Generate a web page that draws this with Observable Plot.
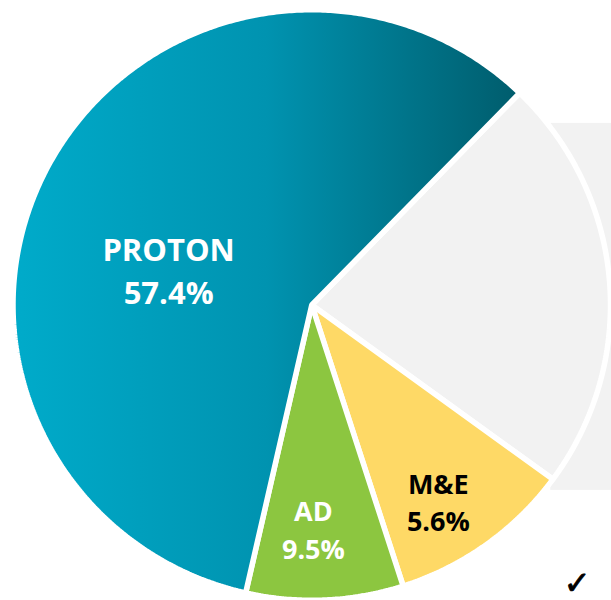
<!DOCTYPE html>
<html>
<head>
<meta charset="utf-8">
<script src="https://cdn.jsdelivr.net/npm/d3@7"></script>
<script src="https://cdn.jsdelivr.net/npm/@observablehq/plot@0.6"></script>
<style>
  html, body { margin: 0; padding: 0; background: #ffffff; }
  #chart { width: 611px; height: 600px; overflow: hidden; }
</style>
</head>
<body>
<div id="chart"></div>
<script>
// ---- data (slice sizes as drawn, clockwise from the start angle) ----
const categories  = ["Other", "M&E", "AD", "PROTON"];
const shares      = [22.8, 10.0, 8.5, 58.7];
const labelNames  = ["", "M&E", "AD", "PROTON"];
const labelValues = ["", "5.6%", "9.5%", "57.4%"];
const checkMark   = ["✓"];

// ---- styles / layout ----
const sliceColors = ["#f2f2f2", "#fed966", "#8cc640", "url(#protonGrad)"];
const labelColors = ["", "#000000", "#ffffff", "#ffffff"];
const labelLayout = [null, {r: 0.786, shift: 3.2, size: 27}, {r: 0.754, shift: 2.1, size: 27}, {r: 0.495, shift: -13.9, size: 31}];
const startAngle = 44.1; // degrees clockwise from 12 o'clock
const backdrop = [{x1: 0.80, x2: 1.05, y1: -0.628, y2: 0.615}];

// ---- geometry built from the data ----
const total = d3.sum(shares);
const rad = Math.PI / 180;
let acc = startAngle;
const slices = categories.map((key, i) => {
  const a0 = acc, a1 = acc + shares[i] / total * 360;
  acc = a1;
  return {key, i, a0, a1};
});
const points = [];
for (const s of slices) {
  points.push({key: s.key, x: 0, y: 0});
  const n = Math.ceil((s.a1 - s.a0) / 0.5);
  for (let k = 0; k <= n; k++) {
    const a = (s.a0 + (s.a1 - s.a0) * k / n) * rad;
    points.push({key: s.key, x: Math.sin(a), y: Math.cos(a)});
  }
}
const labels = slices.filter(s => labelNames[s.i]).map(s => {
  const L = labelLayout[s.i];
  const a = ((s.a0 + s.a1) / 2 + L.shift) * rad;
  return {
    key: s.key,
    x: L.r * Math.sin(a),
    y: L.r * Math.cos(a),
    text: labelNames[s.i] + "\n" + labelValues[s.i],
    color: labelColors[s.i],
    size: L.size
  };
});

const font = "'Open Sans', 'DejaVu Sans', sans-serif";

const chart = Plot.plot({
  width: 611,
  height: 600,
  marginLeft: 12.5,
  marginRight: 1,
  marginTop: 9.25,
  marginBottom: 0.25,
  x: {domain: [-1, 1], axis: null},
  y: {domain: [-1, 1], axis: null},
  color: {type: "ordinal", domain: categories, range: sliceColors},
  style: {background: "#ffffff", fontFamily: font, overflow: "hidden"},
  marks: [
    Plot.rect(backdrop, {x1: "x1", x2: "x2", y1: "y1", y2: "y2", fill: "#f2f2f2"}),
    Plot.line(points, {
      x: "x", y: "y", z: "key", fill: "key",
      stroke: "#ffffff", strokeWidth: 5.5, strokeLinejoin: "miter",
      curve: "linear-closed"
    }),
    Plot.text(labels.filter(d => d.color === "#ffffff"), {
      x: "x", y: "y", text: "text", fill: "#ffffff",
      fontSize: "size", fontWeight: "bold", lineHeight: 1.4, fontFamily: font
    }),
    Plot.text(labels.filter(d => d.color === "#000000"), {
      x: "x", y: "y", text: "text", fill: "#000000",
      fontSize: "size", fontWeight: "bold", lineHeight: 1.4, fontFamily: font
    }),
    Plot.text(checkMark, {
      text: d => d, frameAnchor: "bottom-right", lineAnchor: "middle",
      dx: -20, dy: -17,
      fontSize: 32, fill: "#000000", stroke: "#000000", strokeWidth: 0.9,
      fontFamily: "'DejaVu Sans', sans-serif"
    })
  ]
});

// gradient definition for the PROTON slice
const defs = d3.select(chart).insert("defs", ":first-child");
const grad = defs.append("linearGradient")
  .attr("id", "protonGrad")
  .attr("x1", "0").attr("y1", "0").attr("x2", "1").attr("y2", "0");
[[0, "#00abca"], [0.5, "#0093b0"], [1, "#005c6c"]].forEach(([o, c]) =>
  grad.append("stop").attr("offset", o).attr("stop-color", c));

document.getElementById("chart").appendChild(chart);
</script>
</body>
</html>
